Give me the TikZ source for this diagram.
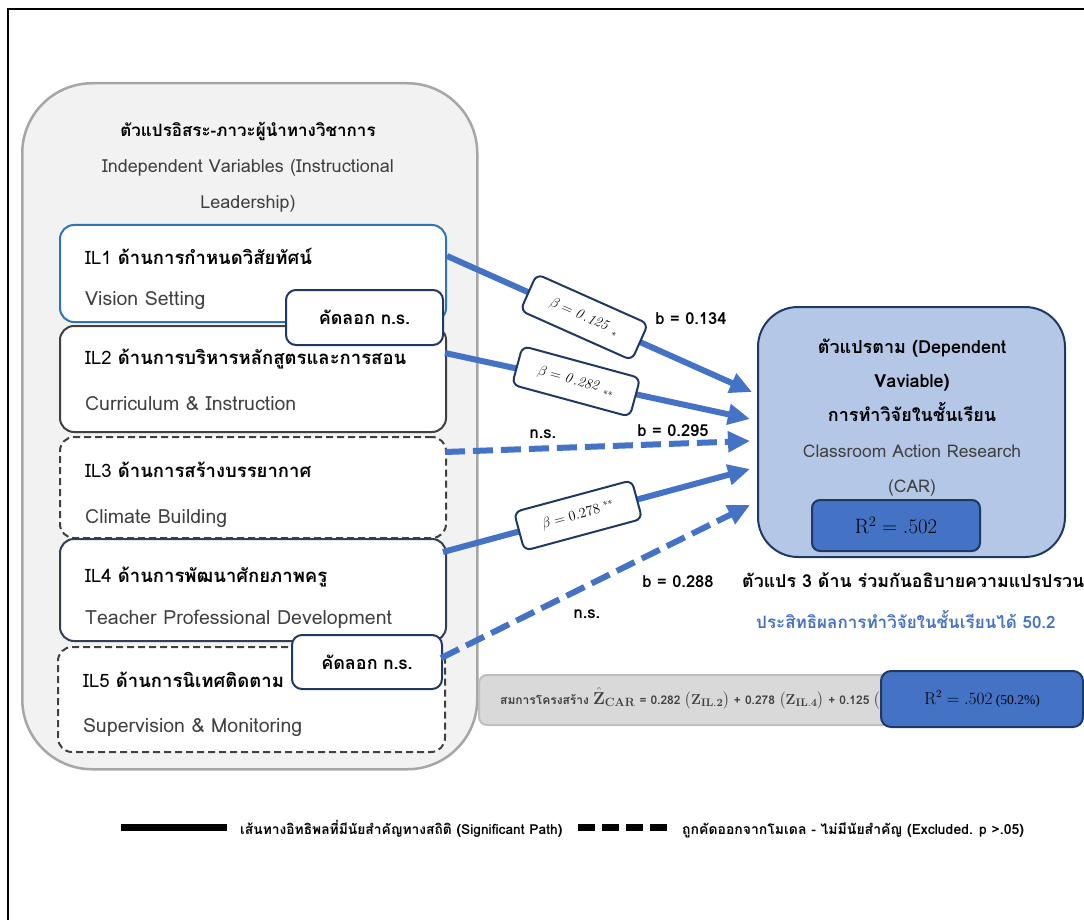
\documentclass[tikz,border=0pt]{standalone}
\usepackage{amsmath}
\usepackage[no-math]{fontspec}
\setmainfont[Script=Thai]{Loma}
\newfontfamily\serifnum{Liberation Serif}
\usetikzlibrary{arrows.meta}
\definecolor{arrowblue}{HTML}{4472C4}
\definecolor{navy}{HTML}{1F3864}
\definecolor{ilblue}{HTML}{2E75B6}
\definecolor{dvfill}{HTML}{B4C7E7}
\definecolor{boxgray}{HTML}{404040}
\definecolor{slate}{HTML}{333F50}
\definecolor{panelfill}{HTML}{F2F2F2}
\definecolor{panelline}{HTML}{A6A6A6}
\definecolor{eqfill}{HTML}{D9D9D9}
\definecolor{eqline}{HTML}{BFBFBF}
\tikzset{
  txt/.style={inner sep=0pt, font=\fontsize{18}{20}\selectfont, text=boxgray},
  ileng/.style={inner sep=0pt, font=\fontsize{19.5}{22}\selectfont, text=boxgray, anchor=base west},
  ilthai/.style={inner sep=0pt, font=\fontsize{18.5}{22}\selectfont, text=black, anchor=base west},
  ilbox/.style={draw, rounded corners=14pt, fill=white, line width=2pt, anchor=north west, inner sep=0pt},
  nsbox/.style={draw=navy, rounded corners=10pt, fill=white, line width=2pt, anchor=north west, inner sep=0pt},
  arr/.style={draw=arrowblue, line width=6pt, -{Triangle[length=22pt,width=20pt]}},
  dasharr/.style={arr, dash pattern=on 20pt off 8pt},
  betabox/.style={draw=navy, fill=white, rounded corners=7pt, line width=2pt, minimum width=122pt, minimum height=40pt, sloped, inner sep=2pt, font=\fontsize{14.5}{15}\selectfont},
  blab/.style={inner sep=0pt, font=\bfseries\fontsize{16.5}{18}\selectfont, text=black},
  dvt/.style={inner sep=0pt, anchor=base, font=\bfseries\fontsize{18}{20}\selectfont, text=black},
}
\begin{document}
\begin{tikzpicture}[x=1pt,y=-1pt]
\useasboundingbox (0,0) rectangle (1084,920);
% frame
\draw[line width=2pt] (8,920) -- (8,9) -- (1084,9);

% left panel
\node[draw=panelline, fill=panelfill, line width=2.5pt, rounded corners=70pt, anchor=north west, minimum width=455pt, minimum height=686pt, inner sep=0pt] (panel) at (21,82) {};
\node[inner sep=0pt, anchor=base, font=\bfseries\fontsize{17}{20}\selectfont] (ptitle) at (248,137) {ตัวแปรอิสระ-ภาวะผู้นำทางวิชาการ};
\node[txt, anchor=base] (psub1) at (248,173) {Independent Variables (Instructional};
\node[txt, anchor=base] (psub2) at (248,208) {Leadership)};

% IL boxes
\node[ilbox, draw=ilblue, minimum width=386pt, minimum height=97pt] (il1) at (59,224) {};
\node[ilbox, draw=boxgray, minimum width=386pt, minimum height=106pt] (il2) at (59,325) {};
\node[ilbox, draw=boxgray, dash pattern=on 7pt off 4pt, minimum width=386pt, minimum height=101pt] (il3) at (59,436) {};
\node[ilbox, draw=slate, minimum width=386pt, minimum height=102pt] (il4) at (59,538) {};
\node[ilbox, draw=boxgray, dash pattern=on 7pt off 4pt, minimum width=387pt, minimum height=105pt] (il5) at (57,646) {};

\node[ilthai] (il1a) at (85,264) {IL1 \textbf{ด้านการกำหนดวิสัยทัศน์}};
\node[ileng] (il1b) at (85,305) {Vision Setting};
\node[ilthai] (il2a) at (85,364) {IL2 \textbf{ด้านการบริหารหลักสูตรและการสอน}};
\node[ileng] (il2b) at (85,410) {Curriculum \& Instruction};
\node[ilthai] (il3a) at (85,477) {IL3 \textbf{ด้านการสร้างบรรยากาศ}};
\node[ileng] (il3b) at (85,523) {Climate Building};
\node[ilthai] (il4a) at (85,582) {IL4 \textbf{ด้านการพัฒนาศักยภาพครู}};
\node[ileng] (il4b) at (85,624) {Teacher Professional Development};
\node[ilthai] (il5a) at (83,687) {IL5 \textbf{ด้านการนิเทศติดตาม}};
\node[ileng] (il5b) at (83,732) {Supervision \& Monitoring};

% excluded tags
\node[nsbox, minimum width=157pt, minimum height=55pt] (ns1) at (285,289) {};
\node[blab, font=\bfseries\fontsize{18}{20}\selectfont] at (ns1.center) {คัดลอก n.s.};
\node[nsbox, minimum width=150pt, minimum height=54pt] (ns2) at (291,634) {};
\node[blab, font=\bfseries\fontsize{18}{20}\selectfont] at (ns2.center) {คัดลอก n.s.};

% dependent variable box
\node[draw=navy, fill=dvfill, line width=2pt, rounded corners=40pt, anchor=north west, minimum width=307pt, minimum height=250pt, inner sep=0pt] (dv) at (757,306) {};
\node[dvt] (dv1) at (912,353) {ตัวแปรตาม (Dependent};
\node[dvt] (dv2) at (912,387) {Vaviable)};
\node[dvt] (dv3) at (912,421) {การทำวิจัยในชั้นเรียน};
\node[dvt, font=\fontsize{17.5}{20}\selectfont, text=boxgray] (dv4) at (912,457) {Classroom Action Research};
\node[dvt, font=\fontsize{17.5}{20}\selectfont, text=boxgray] (dv5) at (912,492) {(CAR)};
\node[draw=navy, fill=arrowblue, line width=2pt, rounded corners=8pt, anchor=north west, minimum width=168pt, minimum height=51pt, inner sep=0pt, font=\fontsize{20}{22}\selectfont] (r2) at (811,499) {$\mathrm{R}^2 = .502$};

% arrows
\coordinate (s1) at (447,256); \coordinate (t1) at (752,392);
\coordinate (s2) at (445,353); \coordinate (t2) at (750,419);
\coordinate (s3) at (445,452); \coordinate (t3) at (750,441);
\coordinate (s4) at (443,552); \coordinate (t4) at (750,469);
\coordinate (s5) at (441,658); \coordinate (t5) at (750,505);
\draw[arr] (s1) -- node[betabox, pos=0.45] {$\beta = \mathit{0.125}\;{}_{*}$} (t1);
\draw[arr] (s2) -- node[betabox, pos=0.43, rotate=-3] {$\beta = \mathit{0.282}\;{}_{**}$} (t2);
\draw[dasharr] (s3) -- (t3);
\draw[arr] (s4) -- node[betabox, pos=0.44] {$\beta = 0.278\;{}^{**}$} (t4);
\draw[dasharr] (s5) -- (t5);

% path labels
\node[blab] (b1) at (691,319) {b = 0.134};
\node[blab] (b2) at (673,431) {b = 0.295};
\node[blab] (n1) at (543,434) {n.s.};
\node[blab] (b3) at (678,582) {b = 0.288};
\node[blab] (n2) at (587,614) {n.s.};

% explanation
\node[blab, anchor=base west, font=\bfseries\fontsize{17.8}{20}\selectfont] (ex1) at (742,587) {ตัวแปร 3 ด้าน ร่วมกันอธิบายความแปรปรวน};
\node[blab, anchor=base west, text=arrowblue, font=\bfseries\fontsize{17}{20}\selectfont] (ex2) at (756,628) {ประสิทธิผลการทำวิจัยในชั้นเรียนได้ 50.2};

% equation bar
\node[draw=eqline, fill=eqfill, line width=2pt, rounded corners=8pt, anchor=north west, minimum width=604pt, minimum height=50pt, inner sep=0pt] (eq) at (478,674) {};
\node[inner sep=0pt, anchor=base west, font=\bfseries\fontsize{12}{14}\selectfont, text=boxgray] (eqt) at (500,704) {สมการโครงสร้าง {\fontsize{16.5}{18}\selectfont$\hat{\mathbf{Z}}_{\mathbf{CAR}}$} = 0.282 {\fontsize{15.5}{18}\selectfont$\big(\mathbf{Z}_{\mathbf{IL.2}}\big)$} + 0.278 {\fontsize{15.5}{18}\selectfont$\big(\mathbf{Z}_{\mathbf{IL.4}}\big)$} + 0.125 {\fontsize{15.5}{18}\selectfont$\big($}};
\node[draw=navy, fill=arrowblue, line width=2pt, rounded corners=10pt, anchor=north west, minimum width=202pt, minimum height=56pt, inner sep=0pt] (r2b) at (880,670) {{\fontsize{16}{17}\selectfont$\mathrm{R}^2 = .502$} {\serifnum\fontsize{13.5}{14}\selectfont(50.2\%)}};

% legend
\coordinate (l1a) at (121,827); \coordinate (l1b) at (227,827);
\coordinate (l2a) at (578,827); \coordinate (l2b) at (667,827);
\draw[line width=7pt] (l1a) -- (l1b);
\draw[line width=7pt, dash pattern=on 17pt off 7pt] (l2a) -- (l2b);
\node[inner sep=0pt, anchor=base west, font=\bfseries\fontsize{13.8}{15}\selectfont] (lg1) at (240,834) {เส้นทางอิทธิพลที่มีนัยสำคัญทางสถิติ (Significant Path)};
\node[inner sep=0pt, anchor=base west, font=\bfseries\fontsize{14}{15}\selectfont] (lg2) at (682,834) {ถูกคัดออกจากโมเดล - ไม่มีนัยสำคัญ (Excluded. p >.05)};
\end{tikzpicture}
\end{document}
